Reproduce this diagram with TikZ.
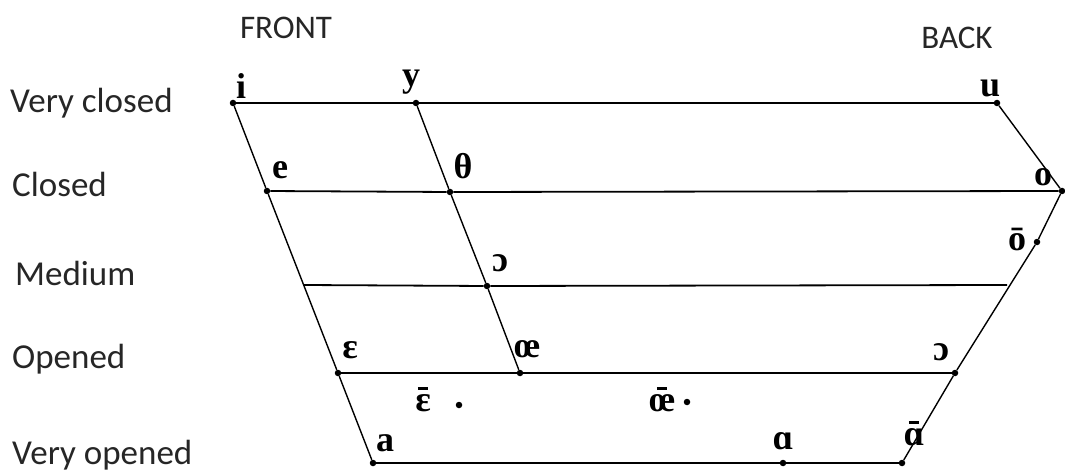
\documentclass[tikz,border=0pt]{standalone}
\usepackage{fontspec}
\setmainfont{Liberation Serif}
\newfontfamily\rowfont{Carlito}
\usepackage{tikz}

% short bar above a vowel
\newcommand{\vbar}[1]{\ooalign{#1\cr\hidewidth\raisebox{0.6em}{\rule{0.28em}{0.08em}}\hidewidth\cr}}

\tikzset{
  dot/.style={circle, fill=black, inner sep=0pt, minimum size=6.5pt},
  row/.style={font=\rowfont\fontsize{35}{40}\selectfont, text=black!85, anchor=west, inner sep=0pt},
  side/.style={font=\rowfont\fontsize{33}{38}\selectfont, text=black!85, inner sep=0pt},
  vow/.style={font=\bfseries\fontsize{36}{40}\selectfont, inner sep=0pt},
  level/.style={line width=1.8pt},
  edge/.style={line width=1.4pt}
}

\begin{document}
\begin{tikzpicture}[x=1pt, y=-1pt]
    \useasboundingbox (0,0) rectangle (1065,473);

    % Column titles
    \node[side] (front) at (286,28) {FRONT};
    \node[side] (back) at (957,38) {BACK};

    % Row titles
    \node[row] (vclosed) at (10,103) {Very closed};
    \node[row] (closed) at (12,184) {Closed};
    \node[row] (medium) at (15,273) {Medium};
    \node[row] (opened) at (12,359) {Opened};
    \node[row] (vopened) at (12,455) {Very opened};

    % Vowel points
    \node[dot] (i) at (233,103) {};
    \node[dot] (y) at (416,103) {};
    \node[dot] (u) at (997,103) {};
    \node[dot] (e) at (267,191) {};
    \node[dot] (th) at (450,192) {};
    \node[dot] (o) at (1062,191) {};
    \node[dot] (obar) at (1037,242) {};
    \node[dot] (om) at (487,286) {};
    \node[dot] (eps) at (338,373) {};
    \node[dot] (oe) at (520,373) {};
    \node[dot] (oo) at (955,373) {};
    \node[dot] (epsbar) at (459,405) {};
    \node[dot] (oebar) at (687,402) {};
    \node[dot] (a) at (373,463) {};
    \node[dot] (aa) at (783,463) {};
    \node[dot] (abar) at (902,463) {};
    \coordinate (mleft) at (304,285);
    \coordinate (mright) at (1007,285);

    % Horizontal levels
    \draw[level] (i) -- (y) -- (u);
    \draw[level] (e) -- (th) -- (o);
    \draw[level] (mleft) -- (om) -- (mright);
    \draw[level] (eps) -- (oe) -- (oo);
    \draw[level] (a) -- (aa) -- (abar);

    % Slanted edges
    \draw[edge] (i) -- (e) -- (eps) -- (a);
    \draw[edge] (y) -- (th) -- (om) -- (oe);
    \draw[edge] (u) -- (o) -- (obar) -- (oo) -- (abar);

    % Vowel labels
    \node[vow] (li) at (241,86) {i};
    \node[vow] (ly) at (411,82) {y};
    \node[vow] (lu) at (990,88) {u};
    \node[vow] (le) at (280,170) {e};
    \node[vow] (lth) at (463,166) {θ};
    \node[vow] (lo) at (1043,177) {o};
    \node[vow] (lobar) at (1017,240) {ō};
    \node[vow] (lom) at (500,263) {ɔ};
    \node[vow] (leps) at (350,350) {ɛ};
    \node[vow] (loe) at (527,349) {œ};
    \node[vow] (loo) at (941,352) {ɔ};
    \node[vow] (lepsbar) at (423,403) {\vbar{ɛ}};
    \node[vow] (loebar) at (662,403) {\vbar{œ}};
    \node[vow] (la) at (385,443) {a};
    \node[vow] (laa) at (783,441) {ɑ};
    \node[vow] (labar) at (914,437) {\vbar{ɑ}};
\end{tikzpicture}
\end{document}
